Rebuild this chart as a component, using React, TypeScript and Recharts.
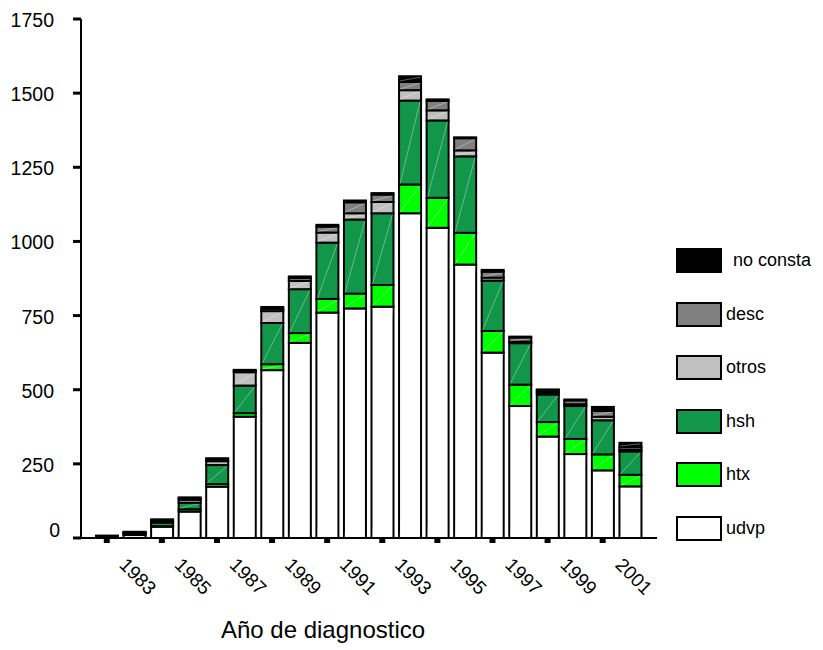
import { Bar, BarChart, Label, XAxis, YAxis } from "recharts";

const years = [
  "1982", "1983", "1984", "1985", "1986", "1987", "1988", "1989", "1990", "1991",
  "1992", "1993", "1994", "1995", "1996", "1997", "1998", "1999", "2000", "2001",
];
const udvp = [4, 10, 38, 89, 173, 409, 566, 658, 760, 774, 780, 1095, 1046, 922, 625, 445, 342, 283, 228, 174];
const htx = [1, 2, 2, 8, 9, 12, 20, 33, 46, 50, 73, 97, 101, 107, 73, 72, 49, 51, 54, 39];
const hsh = [2, 5, 12, 22, 64, 93, 139, 148, 190, 250, 242, 283, 261, 258, 170, 140, 93, 111, 115, 79];
const otros = [0, 1, 4, 10, 13, 45, 40, 28, 34, 21, 38, 35, 34, 20, 10, 5, 7, 6, 12, 6];
const desc = [0, 1, 3, 4, 5, 5, 8, 10, 20, 37, 25, 28, 32, 41, 20, 14, 7, 13, 20, 9];
const noConsta = [1, 2, 4, 4, 5, 3, 6, 5, 6, 6, 5, 19, 5, 3, 6, 3, 3, 3, 13, 14];
const yTicks = [0, 250, 500, 750, 1000, 1250, 1500, 1750];

const series = [
  { key: "udvp", name: "udvp", color: "#ffffff", values: udvp },
  { key: "htx", name: "htx", color: "#00ff00", values: htx },
  { key: "hsh", name: "hsh", color: "#11964a", values: hsh },
  { key: "otros", name: "otros", color: "#c0c0c0", values: otros },
  { key: "desc", name: "desc", color: "#808080", values: desc },
  { key: "noConsta", name: "no consta", color: "#000000", values: noConsta },
];

const data = years.map((year, i) => {
  const row: Record<string, string | number> = { year };
  series.forEach((s) => {
    row[s.key] = s.values[i];
  });
  return row;
});

const FONT = "'Liberation Sans', Arial, sans-serif";

function Segment(props: any) {
  const { x, y, width, height, fill } = props;
  if (!height || height <= 0) return null;
  return (
    <g>
      <rect x={x} y={y} width={width} height={height} fill={fill} stroke="#000" strokeWidth={2} />
      {height > 4 && (
        <line
          x1={x + 1}
          y1={y + height - 1}
          x2={x + width - 1}
          y2={y + 1}
          stroke="rgba(255,255,255,0.45)"
          strokeWidth={0.8}
        />
      )}
    </g>
  );
}

function YTick(props: any) {
  const { x, y, payload } = props;
  const isZero = payload.value === 0;
  return (
    <text
      x={isZero ? x - 11 : x - 17}
      y={isZero ? y - 8 : y + 1}
      textAnchor="end"
      dominantBaseline="central"
      fontSize={19.5}
      fontFamily={FONT}
      fill="#000"
    >
      {payload.value}
    </text>
  );
}

function XTick(props: any) {
  const { x, y, payload, index } = props;
  if (index % 2 === 0) {
    return <rect x={x - 3} y={y} width={6} height={5} fill="#000" />;
  }
  const ax = x - 16;
  const ay = y + 28;
  return (
    <text
      x={ax}
      y={ay}
      transform={`rotate(45 ${ax} ${ay})`}
      textAnchor="start"
      fontSize={19}
      fontFamily={FONT}
      fill="#000"
    >
      {payload.value}
    </text>
  );
}

function LegendBox() {
  const items = [...series].reverse();
  return (
    <div
      style={{
        position: "absolute",
        left: 676,
        top: 248,
        width: 140,
        fontFamily: FONT,
        fontSize: 18,
        color: "#000",
      }}
    >
      {items.map((s) => (
        <div
          key={s.key}
          style={{ display: "flex", alignItems: "center", height: 25, marginBottom: 28.5 }}
        >
          <div
            style={{
              width: 42,
              height: 21,
              border: "2px solid #000",
              background: s.color,
            }}
          />
          <span style={{ marginLeft: s.key === "noConsta" ? 11 : 4 }}>{s.name}</span>
        </div>
      ))}
    </div>
  );
}

export default function App() {
  return (
    <div style={{ position: "absolute", left: 0, top: 0, width: 823, height: 650, background: "#fff" }}>
      <BarChart
        width={823}
        height={650}
        data={data}
        margin={{ top: 19, right: 166, left: 21, bottom: 52 }}
        barCategoryGap={3}
      >
        <XAxis
          dataKey="year"
          height={60}
          interval={0}
          padding={{ left: 12, right: 13 }}
          axisLine={{ stroke: "#000", strokeWidth: 2 }}
          tickLine={false}
          tickSize={0}
          tickMargin={0}
          tick={<XTick />}
        >
          <Label
            content={(p: any) => {
              const vb = p.viewBox;
              return (
                <text
                  x={vb.x + vb.width / 2 - 46}
                  y={638}
                  textAnchor="middle"
                  fontSize={24}
                  fontFamily={FONT}
                  fill="#000"
                >
                  Año de diagnostico
                </text>
              );
            }}
          />
        </XAxis>
        <YAxis
          width={60}
          domain={[0, 1750]}
          ticks={yTicks}
          interval={0}
          axisLine={{ stroke: "#000", strokeWidth: 2 }}
          tickLine={{ stroke: "#000", strokeWidth: 3 }}
          tickSize={8}
          tick={<YTick />}
        />
        {series.map((s) => (
          <Bar
            key={s.key}
            dataKey={s.key}
            name={s.name}
            stackId="a"
            fill={s.color}
            shape={<Segment />}
            isAnimationActive={false}
          />
        ))}
      </BarChart>
      <LegendBox />
    </div>
  );
}
